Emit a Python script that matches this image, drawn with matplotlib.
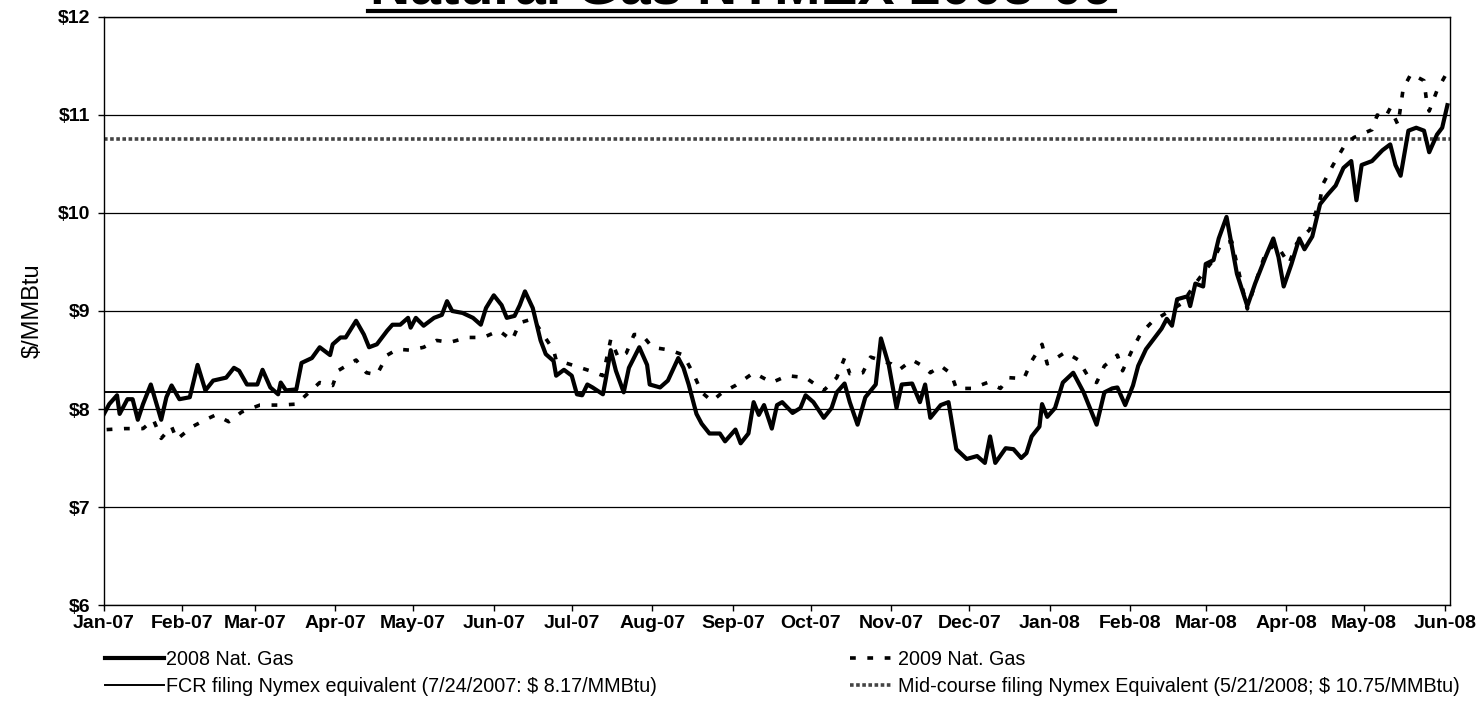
import matplotlib
matplotlib.use("Agg")
import matplotlib.pyplot as plt
import pandas as pd
from matplotlib.lines import Line2D

plt.rcParams["font.family"] = ["Liberation Sans", "DejaVu Sans"]

# day offsets from 2007-01-02 and prices ($/MMBtu)
start = pd.Timestamp("2007-01-02")

days_2008 = [
    0, 2, 5, 6, 9, 11, 13, 15, 18, 22, 24, 26, 29, 33, 36, 39, 42, 47, 50, 52,
    55, 59, 61, 64, 67, 68, 70, 74, 76, 80, 83, 87, 88, 91, 93, 97, 100, 102,
    105, 109, 111, 114, 117, 118, 120, 123, 127, 130, 132, 134, 138, 142, 145,
    147, 150, 153, 155, 158, 160, 162, 165, 168, 170, 173, 174, 177, 180, 182,
    184, 186, 188, 192, 193, 195, 197, 200, 202, 206, 209, 210, 214, 217, 221,
    223, 225, 228, 230, 233, 237, 239, 243, 245, 248, 250, 252, 254, 257, 259,
    261, 265, 268, 270, 273, 277, 280, 282, 285, 287, 290, 293, 297, 299, 302,
    305, 307, 311, 314, 316, 318, 322, 325, 328, 332, 336, 339, 341, 343, 347,
    350, 353, 355, 357, 360, 361, 363, 366, 369, 373, 377, 382, 385, 388, 390,
    393, 396, 398, 401, 403, 407, 409, 411, 413, 417, 418, 420, 423, 424, 427,
    429, 432, 436, 440, 443, 447, 450, 452, 454, 457, 460, 462, 465, 468, 471,
    474, 477, 480, 482, 484, 488, 492, 495, 497, 499, 502, 505, 508, 510, 513,
    515, 517,
]
gas_2008 = [
    7.95, 8.05, 8.14, 7.95, 8.10, 8.10, 7.89, 8.05, 8.25, 7.89, 8.12, 8.24,
    8.10, 8.12, 8.45, 8.19, 8.29, 8.32, 8.42, 8.39, 8.25, 8.25, 8.40, 8.22,
    8.15, 8.27, 8.19, 8.20, 8.47, 8.52, 8.63, 8.55, 8.66, 8.73, 8.73, 8.90,
    8.76, 8.63, 8.66, 8.80, 8.86, 8.86, 8.93, 8.83, 8.93, 8.85, 8.93, 8.96,
    9.10, 9.00, 8.98, 8.93, 8.86, 9.03, 9.16, 9.06, 8.93, 8.95, 9.06, 9.20,
    9.03, 8.70, 8.56, 8.49, 8.34, 8.40, 8.34, 8.15, 8.14, 8.25, 8.22, 8.15,
    8.29, 8.60, 8.39, 8.17, 8.42, 8.63, 8.45, 8.25, 8.22, 8.29, 8.52, 8.42,
    8.25, 7.95, 7.85, 7.75, 7.75, 7.67, 7.79, 7.65, 7.75, 8.07, 7.94, 8.04,
    7.80, 8.04, 8.07, 7.96, 8.01, 8.14, 8.07, 7.91, 8.01, 8.17, 8.26, 8.07,
    7.84, 8.12, 8.25, 8.72, 8.45, 8.01, 8.25, 8.26, 8.07, 8.25, 7.91, 8.04,
    8.07, 7.59, 7.49, 7.52, 7.45, 7.72, 7.45, 7.60, 7.59, 7.50, 7.55, 7.72,
    7.82, 8.05, 7.92, 8.01, 8.27, 8.37, 8.17, 7.84, 8.17, 8.21, 8.22, 8.04,
    8.24, 8.44, 8.61, 8.68, 8.82, 8.92, 8.85, 9.12, 9.15, 9.05, 9.28, 9.25,
    9.48, 9.52, 9.74, 9.96, 9.38, 9.05, 9.28, 9.55, 9.74, 9.55, 9.25, 9.48,
    9.74, 9.63, 9.76, 10.09, 10.19, 10.28, 10.46, 10.53, 10.13, 10.49, 10.53,
    10.64, 10.70, 10.49, 10.38, 10.84, 10.87, 10.84, 10.62, 10.80, 10.87,
    11.10,
]

days_2009 = [
    1, 8, 15, 19, 22, 26, 28, 34, 39, 43, 48, 53, 60, 68, 74, 83, 88, 90, 97,
    101, 105, 109, 113, 118, 123, 128, 133, 140, 146, 152, 157, 160, 165, 173,
    174, 180, 187, 192, 195, 198, 201, 204, 207, 211, 218, 223, 227, 230, 234,
    238, 243, 250, 257, 263, 270, 277, 282, 285, 287, 292, 295, 303, 306, 311,
    315, 318, 322, 326, 328, 334, 340, 345, 348, 354, 357, 361, 363, 370, 375,
    379, 382, 385, 390, 392, 396, 399, 403, 407, 415, 420, 424, 427, 430, 434,
    440, 443, 447, 451, 456, 459, 464, 468, 469, 473, 477, 481, 488, 490, 493,
    495, 498, 500, 503, 508, 509, 510, 513, 517,
]
gas_2009 = [
    7.79, 7.80, 7.80, 7.89, 7.70, 7.82, 7.69, 7.82, 7.89, 7.94, 7.87, 7.97,
    8.04, 8.04, 8.05, 8.27, 8.24, 8.39, 8.50, 8.37, 8.35, 8.55, 8.61, 8.60,
    8.63, 8.70, 8.68, 8.73, 8.73, 8.80, 8.70, 8.88, 8.92, 8.60, 8.50, 8.45,
    8.39, 8.34, 8.71, 8.52, 8.57, 8.76, 8.76, 8.63, 8.60, 8.55, 8.35, 8.17,
    8.08, 8.17, 8.24, 8.37, 8.27, 8.34, 8.32, 8.19, 8.32, 8.52, 8.36, 8.37,
    8.53, 8.46, 8.40, 8.50, 8.44, 8.37, 8.44, 8.36, 8.21, 8.21, 8.27, 8.21,
    8.32, 8.31, 8.49, 8.66, 8.46, 8.58, 8.50, 8.32, 8.27, 8.44, 8.55, 8.39,
    8.62, 8.77, 8.88, 8.95, 9.08, 9.28, 9.42, 9.52, 9.69, 9.71, 9.02, 9.28,
    9.59, 9.69, 9.48, 9.69, 9.83, 10.13, 10.29, 10.49, 10.67, 10.77, 10.85,
    11.00, 10.97, 11.07, 10.90, 11.27, 11.42, 11.35, 11.14, 11.04, 11.25,
    11.44,
]

fcr_level = 8.17
midcourse_level = 10.75

labels = [
    "2008 Nat. Gas",
    "FCR filing Nymex equivalent (7/24/2007: $ 8.17/MMBtu)",
    "2009 Nat. Gas",
    "Mid-course filing Nymex Equivalent (5/21/2008; $ 10.75/MMBtu)",
]
y_ticks = [6, 7, 8, 9, 10, 11, 12]

x08 = start + pd.to_timedelta(days_2008, unit="D")
x09 = start + pd.to_timedelta(days_2009, unit="D")

fig = plt.figure(figsize=(14.82, 7.23), dpi=100)
ax = fig.add_axes([0.0702, 0.1632, 0.9082, 0.8133])

for v in y_ticks:
    ax.axhline(v, color="black", lw=0.9, zorder=1)

mid_style = dict(color="#444444", lw=2.6, linestyle=(0, (1, 0.7)))
dash_2009 = (0, (1.6, 3.2))
ax.axhline(midcourse_level, zorder=2, **mid_style)
ax.axhline(fcr_level, color="black", lw=1.4, zorder=2)

ax.plot(x09, gas_2009, color="black", lw=2.6, linestyle=dash_2009, zorder=3)
ax.plot(x08, gas_2008, color="black", lw=3.0, zorder=4,
        solid_joinstyle="round")

ax.set_xlim(start, start + pd.Timedelta(days=518))
ax.set_ylim(6, 12)

months = pd.date_range("2007-02-01", "2008-06-01", freq="MS")
xt = [start] + list(months)
ax.set_xticks(xt)
ax.set_xticklabels([d.strftime("%b-%y") for d in xt])
ax.set_yticks(y_ticks)
ax.set_yticklabels([f"${v}" for v in y_ticks])

ax.tick_params(axis="both", direction="out", length=4, width=1,
               labelsize=14, colors="black")
ax.tick_params(axis="x", pad=3)
ax.tick_params(axis="y", pad=6)
for lab in ax.get_xticklabels() + ax.get_yticklabels():
    lab.set_fontweight("bold")

for sp in ax.spines.values():
    sp.set_color("black")
    sp.set_linewidth(1.0)

ax.set_ylabel("$/MMBtu", fontsize=17, labelpad=10)

# title, cut off at top edge of the scan
fig.text(0.5006, 1 - 4 / 723, "Natural Gas NYMEX 2008-09", ha="center",
         va="baseline", fontsize=40, fontweight="bold")
fig.add_artist(Line2D([368 / 1482, 1115 / 1482], [1 - 10.5 / 723, 1 - 10.5 / 723],
                      color="black", lw=3, transform=fig.transFigure))

h_2008 = Line2D([], [], color="black", lw=3.0)
h_fcr = Line2D([], [], color="black", lw=1.4)
h_2009 = Line2D([], [], color="black", lw=2.6, linestyle=dash_2009)
h_mid = Line2D([], [], **mid_style)

leg_kw = dict(loc="upper left", frameon=False, fontsize=14.2,
              labelspacing=0.4, borderpad=0, borderaxespad=0)
fig.legend([h_2008, h_fcr], labels[:2], bbox_to_anchor=(105 / 1482, 1 - 650 / 723),
           handlelength=3.0, handletextpad=0.1, **leg_kw)
fig.legend([h_2009, h_mid], labels[2:], bbox_to_anchor=(850 / 1482, 1 - 650 / 723),
           handlelength=2.2, handletextpad=0.25, **leg_kw)

fig.savefig("out.png", dpi=100)
